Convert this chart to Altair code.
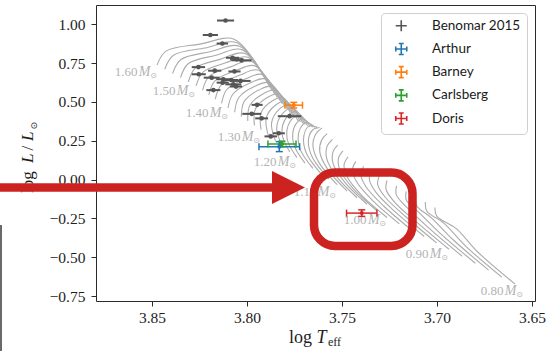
import altair as alt
import pandas as pd

# ---- stellar evolutionary tracks, 0.80-1.60 Msun in 0.02 Msun steps (five nodes each) ----
track_mass = [1.60, 1.58, 1.56, 1.54, 1.52, 1.50, 1.48, 1.46, 1.44, 1.42,
              1.40, 1.38, 1.36, 1.34, 1.32, 1.30, 1.28, 1.26, 1.24, 1.22,
              1.20, 1.18, 1.16, 1.14, 1.12, 1.10, 1.08, 1.06, 1.04, 1.02,
              1.00, 0.98, 0.96, 0.94, 0.92, 0.90, 0.88, 0.86, 0.84, 0.82, 0.80]

track_logT = [
    [3.8474, 3.8426, 3.8247, 3.8068, 3.7921],
    [3.8433, 3.8387, 3.8221, 3.8053, 3.7910],
    [3.8392, 3.8348, 3.8195, 3.8039, 3.7900],
    [3.8350, 3.8310, 3.8168, 3.8024, 3.7889],
    [3.8309, 3.8271, 3.8142, 3.8010, 3.7879],
    [3.8268, 3.8232, 3.8116, 3.7995, 3.7868],
    [3.8234, 3.8200, 3.8090, 3.7976, 3.7854],
    [3.8201, 3.8169, 3.8063, 3.7957, 3.7841],
    [3.8167, 3.8137, 3.8037, 3.7938, 3.7827],
    [3.8134, 3.8106, 3.8010, 3.7919, 3.7814],
    [3.8100, 3.8074, 3.7984, 3.7900, 3.7800],
    [3.8065, 3.8044, 3.7961, 3.7882, 3.7786],
    [3.8030, 3.8015, 3.7938, 3.7864, 3.7773],
    [3.7996, 3.7985, 3.7914, 3.7847, 3.7759],
    [3.7961, 3.7956, 3.7891, 3.7829, 3.7746],
    [3.7926, 3.7926, 3.7868, 3.7811, 3.7732],
    [3.7888, 3.7899, 3.7849, 3.7794, 3.7719],
    [3.7850, 3.7871, 3.7830, 3.7777, 3.7706],
    [3.7813, 3.7844, 3.7812, 3.7760, 3.7694],
    [3.7775, 3.7816, 3.7793, 3.7743, 3.7681],
    [3.7737, 3.7789, 3.7774, 3.7726, 3.7668],
    [3.7695, 3.7755, 3.7750, 3.7708, 3.7655],
    [3.7653, 3.7722, 3.7726, 3.7690, 3.7643],
    [3.7610, 3.7688, 3.7701, 3.7673, 3.7630],
    [3.7568, 3.7655, 3.7677, 3.7655, 3.7618],
    [3.7526, 3.7621, 3.7653, 3.7637, 3.7605],
    [3.7473, 3.7576, 3.7617, 3.7607, 3.7578],
    [3.7421, 3.7531, 3.7581, 3.7578, 3.7550],
    [3.7368, 3.7485, 3.7546, 3.7548, 3.7523],
    [3.7316, 3.7440, 3.7510, 3.7519, 3.7495],
    [3.7263, 3.7395, 3.7474, 3.7489, 3.7468],
    [3.7198, 3.7337, 3.7423, 3.7445, 3.7427],
    [3.7133, 3.7279, 3.7373, 3.7401, 3.7386],
    [3.7067, 3.7221, 3.7322, 3.7356, 3.7345],
    [3.7002, 3.7163, 3.7272, 3.7312, 3.7304],
    [3.6937, 3.7105, 3.7221, 3.7268, 3.7263],
    [3.6867, 3.7041, 3.7157, 3.7214, 3.7213],
    [3.6798, 3.6977, 3.7093, 3.7161, 3.7162],
    [3.6728, 3.6912, 3.7028, 3.7107, 3.7112],
    [3.6659, 3.6848, 3.6964, 3.7054, 3.7061],
    [3.6589, 3.6784, 3.6900, 3.7000, 3.7011],
]

track_logL = [
    [0.737, 0.827, 0.872, 0.904, 0.686],
    [0.710, 0.800, 0.847, 0.881, 0.663],
    [0.683, 0.773, 0.823, 0.858, 0.640],
    [0.656, 0.746, 0.799, 0.835, 0.617],
    [0.629, 0.719, 0.774, 0.812, 0.594],
    [0.603, 0.692, 0.750, 0.788, 0.571],
    [0.574, 0.664, 0.724, 0.760, 0.550],
    [0.546, 0.636, 0.699, 0.732, 0.530],
    [0.518, 0.608, 0.673, 0.704, 0.509],
    [0.490, 0.580, 0.647, 0.676, 0.488],
    [0.462, 0.551, 0.622, 0.647, 0.468],
    [0.433, 0.527, 0.599, 0.623, 0.450],
    [0.405, 0.503, 0.576, 0.599, 0.432],
    [0.377, 0.478, 0.553, 0.574, 0.414],
    [0.349, 0.454, 0.530, 0.550, 0.396],
    [0.321, 0.430, 0.506, 0.526, 0.378],
    [0.285, 0.396, 0.480, 0.504, 0.371],
    [0.249, 0.363, 0.453, 0.482, 0.363],
    [0.213, 0.330, 0.426, 0.460, 0.355],
    [0.177, 0.296, 0.399, 0.438, 0.347],
    [0.141, 0.263, 0.372, 0.417, 0.340],
    [0.106, 0.232, 0.341, 0.392, 0.338],
    [0.072, 0.201, 0.310, 0.368, 0.337],
    [0.037, 0.171, 0.280, 0.344, 0.336],
    [0.003, 0.140, 0.249, 0.319, 0.335],
    [-0.032, 0.109, 0.218, 0.295, 0.333],
    [-0.074, 0.067, 0.178, 0.255, 0.296],
    [-0.117, 0.024, 0.138, 0.215, 0.259],
    [-0.159, -0.018, 0.099, 0.176, 0.222],
    [-0.201, -0.060, 0.059, 0.136, 0.185],
    [-0.244, -0.103, 0.019, 0.096, 0.147],
    [-0.285, -0.137, -0.014, 0.064, 0.117],
    [-0.326, -0.172, -0.048, 0.032, 0.086],
    [-0.367, -0.207, -0.081, 0.000, 0.055],
    [-0.408, -0.241, -0.114, -0.032, 0.024],
    [-0.449, -0.276, -0.148, -0.064, -0.006],
    [-0.494, -0.314, -0.181, -0.099, -0.041],
    [-0.539, -0.353, -0.214, -0.133, -0.076],
    [-0.583, -0.391, -0.248, -0.168, -0.110],
    [-0.628, -0.430, -0.281, -0.203, -0.145],
    [-0.673, -0.468, -0.314, -0.237, -0.180],
]

# ---- mass labels placed at the start of every 0.10 Msun track ----
label_text = ["1.60", "1.50", "1.40", "1.30", "1.20", "1.10", "1.00", "0.90", "0.80"]
label_logT = [3.8474, 3.8274, 3.8100, 3.7932, 3.7742, 3.7532, 3.7268, 3.6942, 3.6547]
label_logL = [0.667, 0.545, 0.404, 0.250, 0.090, -0.103, -0.288, -0.506, -0.744]

# ---- Benomar et al. (2015) sample ----
benomar_logT = [3.8113, 3.8193, 3.8130, 3.8076, 3.8054, 3.8029, 3.8256, 3.8170,
                3.8066, 3.8254, 3.8186, 3.8125, 3.8083, 3.8034, 3.8128, 3.8072,
                3.8058, 3.8177, 3.7947, 3.7975, 3.7923, 3.7776, 3.7833, 3.7875]
benomar_logL = [1.024, 0.931, 0.876, 0.784, 0.774, 0.768, 0.724, 0.701,
                0.696, 0.678, 0.656, 0.646, 0.641, 0.635, 0.624, 0.613,
                0.599, 0.576, 0.481, 0.423, 0.394, 0.408, 0.298, 0.278]
benomar_err_logT = [0.0045, 0.0040, 0.0030, 0.0035, 0.0035, 0.0053, 0.0035, 0.0035,
                    0.0032, 0.0037, 0.0042, 0.0037, 0.0037, 0.0053, 0.0032, 0.0042,
                    0.0032, 0.0037, 0.0029, 0.0050, 0.0034, 0.0062, 0.0032, 0.0033]
benomar_err_logL = [0.01] * 24

# ---- named targets ----
star_names = ["Arthur", "Barney", "Carlsberg", "Doris"]
star_colors = ["#1f77b4", "#ff7f0e", "#2ca02c", "#d62728"]
star_logT = [3.7830, 3.7754, 3.7816, 3.7396]
star_logL = [0.212, 0.479, 0.229, -0.216]
star_err_logT = [0.0107, 0.0046, 0.0074, 0.0080]
star_err_logL = [0.032, 0.018, 0.018, 0.021]

BENOMAR_NAME = "Benomar 2015"
BENOMAR_COLOR = "#555555"
TRACK_COLOR = "#ababab"
ANNOT_RED = "#cc2321"
SERIF = "Liberation Serif"

# ---- tables ----
tracks = pd.DataFrame(
    [
        {"mass": m, "node": i, "logT": t, "logL": l}
        for m, ts, ls in zip(track_mass, track_logT, track_logL)
        for i, (t, l) in enumerate(zip(ts, ls))
    ]
)
labels = pd.DataFrame({"label": label_text, "logT": label_logT, "logL": label_logL})

ben = pd.DataFrame({"logT": benomar_logT, "logL": benomar_logL,
                    "eT": benomar_err_logT, "eL": benomar_err_logL})
ben["T_lo"] = ben.logT - ben.eT
ben["T_hi"] = ben.logT + ben.eT
ben["L_lo"] = ben.logL - ben.eL
ben["L_hi"] = ben.logL + ben.eL

stars = pd.DataFrame({"series": star_names, "hex": star_colors, "logT": star_logT,
                      "logL": star_logL, "eT": star_err_logT, "eL": star_err_logL})
stars["T_lo"] = stars.logT - stars.eT
stars["T_hi"] = stars.logT + stars.eT
stars["L_lo"] = stars.logL - stars.eL
stars["L_hi"] = stars.logL + stars.eL

legend_names = [BENOMAR_NAME] + star_names
legend_colors = [BENOMAR_COLOR] + star_colors
legend_df = pd.DataFrame({"series": legend_names,
                          "logT": [benomar_logT[0]] + star_logT,
                          "logL": [benomar_logL[0]] + star_logL})

# ---- scales and axes ----
x_scale = alt.Scale(domain=[3.6484, 3.8795], reverse=True, nice=False, zero=False)
y_scale = alt.Scale(domain=[-0.782, 1.124], nice=False, zero=False)
axis_style = dict(grid=False, domain=False, title=None, format=".2f",
                  labelFont=SERIF, labelFontSize=15.5, labelColor="#1e1e1e",
                  tickColor="#2b2b2b", tickSize=5, tickWidth=1)
x_axis = alt.Axis(values=[3.85, 3.80, 3.75, 3.70, 3.65], labelPadding=4, **axis_style)
y_axis = alt.Axis(values=[-0.75, -0.5, -0.25, 0.0, 0.25, 0.5, 0.75, 1.0],
                  labelPadding=6, **axis_style)


def X(field="logT"):
    return alt.X(f"{field}:Q", scale=x_scale, axis=x_axis)


def Y(field="logL"):
    return alt.Y(f"{field}:Q", scale=y_scale, axis=y_axis)


# ---- tracks and their mass labels ----
track_layer = alt.Chart(tracks).mark_line(
    interpolate="catmull-rom", color=TRACK_COLOR, strokeWidth=1.1, clip=True
).encode(x=X(), y=Y(), detail="mass:N", order="node:O")

lbl_num = alt.Chart(labels).mark_text(
    align="right", baseline="alphabetic", dx=-19.5, font=SERIF, fontSize=13, color="#b3b3b3"
).encode(x=X(), y=Y(), text="label:N")
lbl_m = alt.Chart(labels).mark_text(
    align="right", baseline="alphabetic", dx=-6.5, font=SERIF, fontSize=14,
    fontStyle="italic", color="#b3b3b3", text="M"
).encode(x=X(), y=Y())
lbl_sun = alt.Chart(labels).mark_text(
    align="right", baseline="alphabetic", dx=0, dy=2, font="DejaVu Sans", fontSize=8,
    color="#b3b3b3", text="⊙"
).encode(x=X(), y=Y())

# ---- Benomar sample: horizontal and vertical error bars with dots ----
ben_xerr = alt.Chart(ben).mark_rule(color=BENOMAR_COLOR, strokeWidth=2).encode(
    x=X("T_lo"), x2="T_hi:Q", y=Y())
ben_yerr = alt.Chart(ben).mark_rule(color=BENOMAR_COLOR, strokeWidth=2).encode(
    x=X(), y=Y("L_lo"), y2="L_hi:Q")
ben_pts = alt.Chart(ben).mark_circle(color=BENOMAR_COLOR, size=22, opacity=1).encode(
    x=X(), y=Y())

# ---- named stars: capped error bars ----
col = alt.Color("hex:N", scale=None)
star_xerr = alt.Chart(stars).mark_rule(strokeWidth=1.5).encode(
    x=X("T_lo"), x2="T_hi:Q", y=Y(), color=col)
star_yerr = alt.Chart(stars).mark_rule(strokeWidth=1.5).encode(
    x=X(), y=Y("L_lo"), y2="L_hi:Q", color=col)
cap_v = "M0,-1V1"
cap_h = "M-1,0H1"
star_cap_lo = alt.Chart(stars).mark_point(shape=cap_v, size=49, strokeWidth=1.5, filled=False, opacity=1).encode(
    x=X("T_lo"), y=Y(), color=col)
star_cap_hi = alt.Chart(stars).mark_point(shape=cap_v, size=49, strokeWidth=1.5, filled=False, opacity=1).encode(
    x=X("T_hi"), y=Y(), color=col)
star_cap_bot = alt.Chart(stars).mark_point(shape=cap_h, size=49, strokeWidth=1.5, filled=False, opacity=1).encode(
    x=X(), y=Y("L_lo"), color=col)
star_cap_top = alt.Chart(stars).mark_point(shape=cap_h, size=49, strokeWidth=1.5, filled=False, opacity=1).encode(
    x=X(), y=Y("L_hi"), color=col)
star_pts = alt.Chart(stars).mark_circle(size=18, opacity=1).encode(x=X(), y=Y(), color=col)

# ---- legend (driven by an invisible layer) ----
plus_plain = "M-1,0H1M0,-1V1"
plus_capped = "M-1,0H1M0,-1V1M-1,-0.45V0.45M1,-0.45V0.45M-0.45,-1H0.45M-0.45,1H0.45"
leg = alt.Legend(
    title=None, orient="top-right", offset=8, padding=6, rowPadding=5.2,
    symbolOffset=7.5, labelOffset=24, labelFont="Lato", labelFontSize=13.5,
    labelColor="#1a1a1a", symbolSize=121, symbolStrokeWidth=1.6, symbolOpacity=1,
    strokeColor="#cfcfcf", fillColor="white", cornerRadius=4,
)
legend_layer = alt.Chart(legend_df).mark_point(filled=False, opacity=0).encode(
    x=X(), y=Y(),
    color=alt.Color("series:N", scale=alt.Scale(domain=legend_names, range=legend_colors), legend=leg),
    shape=alt.Shape("series:N", scale=alt.Scale(domain=legend_names,
                                                range=[plus_plain] + [plus_capped] * 4), legend=leg),
)

# ---- axis titles written as text pieces ----
one = pd.DataFrame({"k": [0]})
TITLE_C = "#1e1e1e"
xt_log = alt.Chart(one).mark_text(align="left", baseline="alphabetic", font=SERIF, fontSize=18,
                                  color=TITLE_C, text="log").encode(x=alt.value(193), y=alt.value(338))
xt_T = alt.Chart(one).mark_text(align="left", baseline="alphabetic", font=SERIF, fontSize=18,
                                fontStyle="italic", color=TITLE_C, text="T").encode(x=alt.value(220.5), y=alt.value(338))
xt_eff = alt.Chart(one).mark_text(align="left", baseline="alphabetic", font=SERIF, fontSize=12,
                                  color=TITLE_C, text="eff").encode(x=alt.value(232), y=alt.value(341))

yt_log = alt.Chart(one).mark_text(align="left", baseline="alphabetic", angle=270, font=SERIF, fontSize=17,
                                  color=TITLE_C, text="log").encode(x=alt.value(-63), y=alt.value(188))
yt_L1 = alt.Chart(one).mark_text(align="left", baseline="alphabetic", angle=270, font=SERIF, fontSize=17,
                                 fontStyle="italic", color=TITLE_C, text="L").encode(x=alt.value(-63), y=alt.value(158))
yt_sl = alt.Chart(one).mark_text(align="left", baseline="alphabetic", angle=270, font=SERIF, fontSize=17,
                                 color=TITLE_C, text="/").encode(x=alt.value(-63), y=alt.value(145.5))
yt_L2 = alt.Chart(one).mark_text(align="left", baseline="alphabetic", angle=270, font=SERIF, fontSize=17,
                                 fontStyle="italic", color=TITLE_C, text="L").encode(x=alt.value(-63), y=alt.value(136))
yt_sun = alt.Chart(one).mark_text(align="left", baseline="alphabetic", angle=270, font="DejaVu Sans", fontSize=9,
                                  color=TITLE_C, text="⊙").encode(x=alt.value(-59), y=alt.value(124.5))

# ---- highlight: arrow and rounded box ----
arrow_shaft = alt.Chart(one).mark_rule(color=ANNOT_RED, strokeWidth=8.5, strokeCap="butt").encode(
    x=alt.value(-96), x2=alt.value(178), y=alt.value(182.5))
arrow_head = alt.Chart(one).mark_point(shape="M-1,-1L1,0L-1,1Z", filled=True, size=1089,
                                       color=ANNOT_RED, opacity=1).encode(
    x=alt.value(192.5), y=alt.value(182.5))
box = alt.Chart(one).mark_rect(fillOpacity=0, stroke=ANNOT_RED, strokeWidth=8.5, cornerRadius=21).encode(
    x=alt.value(218), x2=alt.value(316.5), y=alt.value(167.5), y2=alt.value(241))
edge_line = alt.Chart(one).mark_rule(color="#6a6a6a", strokeWidth=2).encode(
    x=alt.value(-95), y=alt.value(220), y2=alt.value(346))

chart = alt.layer(
    track_layer, lbl_num, lbl_m, lbl_sun,
    ben_xerr, ben_yerr, ben_pts,
    star_xerr, star_yerr, star_cap_lo, star_cap_hi, star_cap_bot, star_cap_top, star_pts,
    legend_layer,
    xt_log, xt_T, xt_eff, yt_log, yt_L1, yt_sl, yt_L2, yt_sun,
    box, arrow_shaft, arrow_head, edge_line,
).properties(
    width=439, height=296,
    autosize=alt.AutoSizeParams(type="none"),
    padding={"left": 96, "top": 5, "right": 13, "bottom": 50},
    background="white",
).configure_view(stroke="#2b2b2b", strokeWidth=1)

chart.save("out.html", embed_options={"renderer": "svg", "actions": False})
